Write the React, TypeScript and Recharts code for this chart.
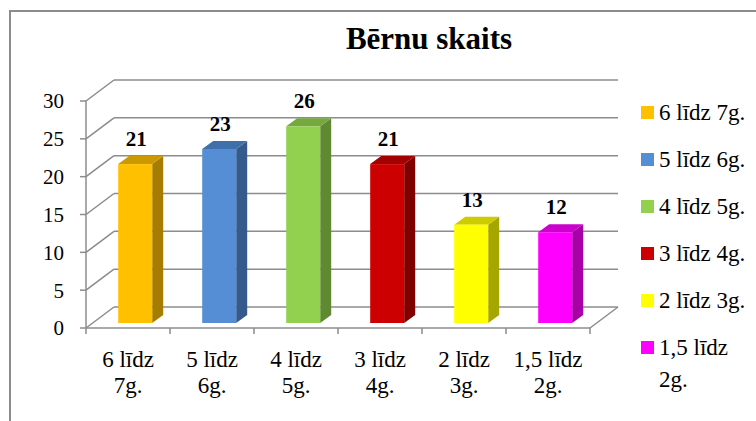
import React from 'react';
import { BarChart, Bar, XAxis, YAxis, CartesianGrid, Legend, LabelList, ReferenceLine } from 'recharts';

const categories = ['6 līdz 7g.', '5 līdz 6g.', '4 līdz 5g.', '3 līdz 4g.', '2 līdz 3g.', '1,5 līdz 2g.'];
const values = [21, 23, 26, 21, 13, 12];
const yTicks = [0, 5, 10, 15, 20, 25, 30];

const frontColors = ['#FFC000', '#558ED5', '#92D050', '#CC0000', '#FFFF00', '#FF00FF'];
const sideColors = ['#A67D00', '#345B8C', '#5F8A33', '#800000', '#A6A600', '#A600A6'];
const topColors = ['#CC9900', '#4070AA', '#75A83F', '#A30000', '#CCCC00', '#CC00CC'];

const data = categories.map((name, i) => ({ name, value: values[i] }));

const FONT = "'Liberation Serif', Tinos, 'Times New Roman'";
const GRID = '#8c8c8c';

// depth of the 3D walls and of the bars
const WALL_X = 28;
const WALL_Y = 21;
const BAR_DX = 7;
const BAR_DY = 5;
const SIDE_X = 11;
const SIDE_Y = 8;

const gridLine = (props: any) => {
  const { x1, x2, y1, index } = props;
  return (
    <g key={`grid-${index}`}>
      <line x1={x1} y1={y1} x2={x1 + WALL_X} y2={y1 - WALL_Y} stroke={GRID} strokeWidth={1.5} />
      <line x1={x1 + WALL_X} y1={y1 - WALL_Y} x2={x2 + WALL_X} y2={y1 - WALL_Y} stroke={GRID} strokeWidth={1.5} />
    </g>
  );
};

const floorEdge = (props: any) => {
  const { x2, y2 } = props;
  return <line x1={x2} y1={y2} x2={x2 + WALL_X} y2={y2 - WALL_Y} stroke={GRID} strokeWidth={1.5} />;
};

const Bar3D = (props: any) => {
  const { x, y, width, height, index } = props;
  const fx = x + BAR_DX;
  const fy = y - BAR_DY;
  const side = `${fx + width},${fy} ${fx + width + SIDE_X},${fy - SIDE_Y} ${fx + width + SIDE_X},${fy + height - SIDE_Y} ${fx + width},${fy + height}`;
  const top = `${fx},${fy} ${fx + SIDE_X},${fy - SIDE_Y} ${fx + width + SIDE_X},${fy - SIDE_Y} ${fx + width},${fy}`;
  return (
    <g>
      <polygon points={side} fill={sideColors[index]} />
      <polygon points={top} fill={topColors[index]} />
      <rect x={fx} y={fy} width={width} height={height} fill={frontColors[index]} />
    </g>
  );
};

const renderValue = (props: any) => {
  const { x, y, width, value } = props;
  return (
    <text
      x={x + BAR_DX + width / 2 + 1}
      y={y - 23}
      textAnchor="middle"
      style={{ fontFamily: FONT, fontSize: 21, fontWeight: 'bold' }}
      fill="#000"
    >
      {value}
    </text>
  );
};

const CategoryTick = (props: any) => {
  const { x, y, payload, index, visibleTicksCount } = props;
  const half = payload.offset || 42;
  const label = String(payload.value);
  const cut = label.lastIndexOf(' ');
  const isLast = index === visibleTicksCount - 1;
  const textStyle = { fontFamily: FONT, fontSize: 23 };
  return (
    <g>
      <line x1={x - half} y1={y} x2={x - half} y2={y + 6} stroke={GRID} strokeWidth={1.5} />
      {isLast && <line x1={x + half} y1={y} x2={x + half} y2={y + 6} stroke={GRID} strokeWidth={1.5} />}
      <text x={x} y={y + 39} textAnchor="middle" style={textStyle} fill="#000">
        {label.slice(0, cut)}
      </text>
      <text x={x} y={y + 65} textAnchor="middle" style={textStyle} fill="#000">
        {label.slice(cut + 1)}
      </text>
    </g>
  );
};

const renderLegend = () => (
  <div style={{ fontFamily: FONT, fontSize: 23, color: '#000' }}>
    {categories.map((c, i) => (
      <div key={c} style={{ display: 'flex', alignItems: 'flex-start', height: 47 }}>
        <span style={{ width: 13, height: 13, background: frontColors[i], marginTop: 9, flex: 'none' }} />
        <span style={{ marginLeft: 5, width: 92, lineHeight: '32px' }}>{c}</span>
      </div>
    ))}
  </div>
);

export default function App() {
  return (
    <div
      style={{
        position: 'fixed',
        left: 0,
        top: 0,
        width: 756,
        height: 421,
        background: '#fff',
        overflow: 'hidden',
        fontFamily: FONT,
      }}
    >
      <div
        style={{
          position: 'absolute',
          left: 9,
          top: 10,
          width: 800,
          height: 500,
          borderTop: `2px solid ${GRID}`,
          borderLeft: `2px solid ${GRID}`,
        }}
      />
      <svg width={756} height={60} style={{ position: 'absolute', left: 0, top: 0 }}>
        <text x={429} y={49} textAnchor="middle" style={{ fontFamily: FONT, fontSize: 31, fontWeight: 'bold' }} fill="#000">
          Bērnu skaits
        </text>
      </svg>
      <div style={{ position: 'absolute', left: 0, top: 0 }}>
        <BarChart
          width={756}
          height={421}
          data={data}
          margin={{ top: 101, right: 166, bottom: 13, left: 16 }}
          barCategoryGap="30%"
          style={{ fontFamily: FONT }}
        >
          <CartesianGrid vertical={false} horizontal={gridLine} />
          <ReferenceLine y={0} shape={floorEdge} />
          <XAxis
            dataKey="name"
            height={80}
            interval={0}
            tickLine={false}
            tickSize={0}
            tickMargin={0}
            axisLine={{ stroke: GRID, strokeWidth: 1.5 }}
            tick={<CategoryTick />}
          />
          <YAxis
            width={70}
            domain={[0, 30]}
            ticks={yTicks}
            interval={0}
            tickSize={6}
            tickMargin={16}
            axisLine={{ stroke: GRID, strokeWidth: 1.5 }}
            tickLine={{ stroke: GRID, strokeWidth: 1.5 }}
            tick={{ fill: '#000', fontSize: 21, style: { fontFamily: FONT } }}
          />
          <Legend
            layout="vertical"
            align="center"
            verticalAlign="middle"
            content={renderLegend}
            wrapperStyle={{ left: 641, top: 97, width: 115 }}
          />
          <Bar dataKey="value" shape={<Bar3D />} isAnimationActive={false}>
            <LabelList dataKey="value" content={renderValue} />
          </Bar>
        </BarChart>
      </div>
    </div>
  );
}
